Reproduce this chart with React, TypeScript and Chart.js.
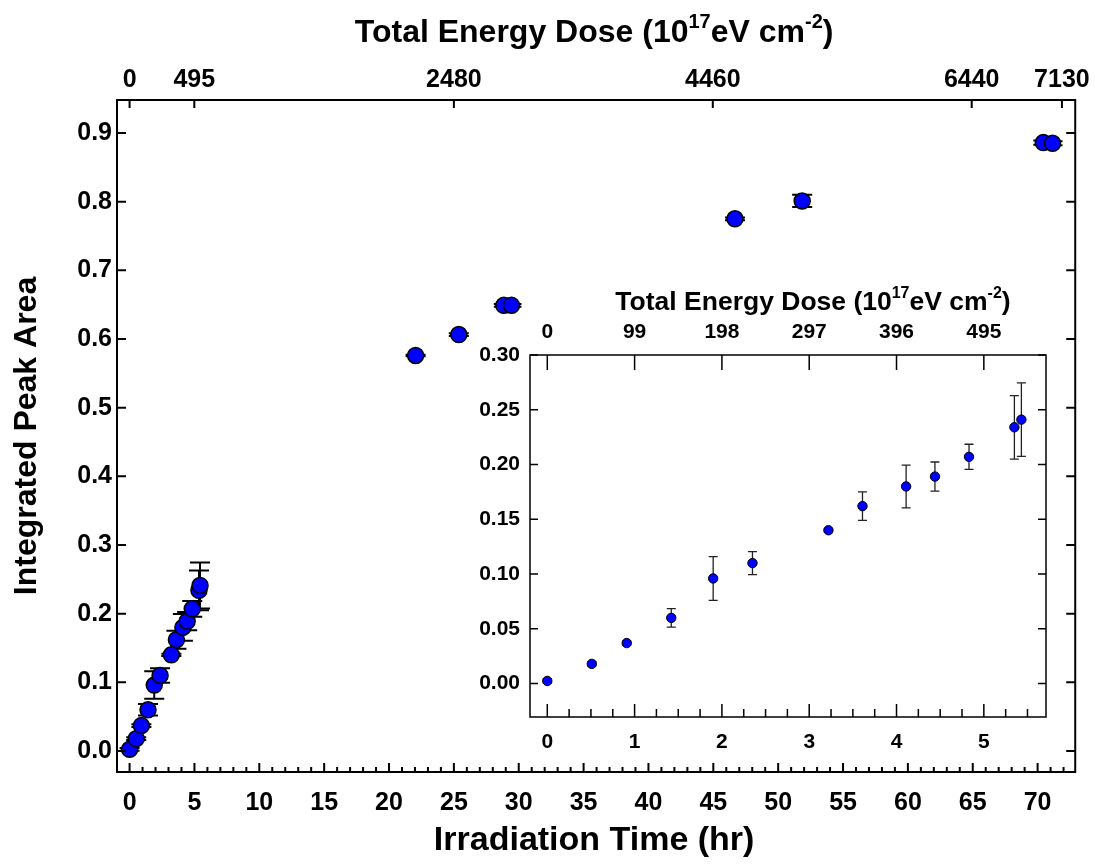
import React, { useEffect, useRef } from 'react';
import { Chart, registerables } from 'chart.js';

Chart.register(...registerables);

const FONT = "'Liberation Sans', Arial, Helvetica, sans-serif";

// ---- data (irradiation time in hr, integrated peak area, error) ----
const earlyTime = [0, 0.51, 0.91, 1.42, 1.9, 2.35, 3.22, 3.61, 4.11, 4.44, 4.83, 5.35, 5.43];
const earlyArea = [0.0024, 0.018, 0.037, 0.06, 0.096, 0.11, 0.14, 0.162, 0.18, 0.189, 0.207, 0.234, 0.241];
const earlyErr = [0.002, 0.002, 0.002, 0.0085, 0.02, 0.0105, 0.0015, 0.013, 0.0195, 0.0133, 0.0115, 0.029, 0.0335];

const lateTime = [22.05, 25.38, 28.85, 29.44, 46.67, 51.85, 70.44, 71.15];
const lateArea = [0.576, 0.6065, 0.649, 0.649, 0.775, 0.801, 0.886, 0.885];
const lateErr = [0.001, 0.002, 0.002, 0.002, 0.002, 0.009, 0.003, 0.003];

// ---- tick labels ----
const mainXTicks = [0, 5, 10, 15, 20, 25, 30, 35, 40, 45, 50, 55, 60, 65, 70];
const mainTopTicks = [0, 495, 2480, 4460, 6440, 7130];
const mainYTicks = [0, 0.1, 0.2, 0.3, 0.4, 0.5, 0.6, 0.7, 0.8, 0.9];
const insetXTicks = [0, 1, 2, 3, 4, 5];
const insetTopTicks = [0, 99, 198, 297, 396, 495];
const insetYTicks = [0, 0.05, 0.1, 0.15, 0.2, 0.25, 0.3];

const xTitle = 'Irradiation Time (hr)';
const yTitle = 'Integrated Peak Area';
const topTitleParts = [
  { t: 'Total Energy Dose (10', sup: false },
  { t: '17', sup: true },
  { t: 'eV cm', sup: false },
  { t: '-2', sup: true },
  { t: ')', sup: false },
];

function range(start: number, end: number, step: number) {
  const out: number[] = [];
  for (let v = start; v <= end + 1e-9; v += step) out.push(Math.round(v * 1000) / 1000);
  return out;
}

function drawRich(ctx: CanvasRenderingContext2D, parts: { t: string; sup: boolean }[], cx: number, cy: number, size: number) {
  const big = `bold ${size}px ${FONT}`;
  const small = `bold ${Math.round(size * 0.62)}px ${FONT}`;
  let total = 0;
  const widths = parts.map((p) => {
    ctx.font = p.sup ? small : big;
    const w = ctx.measureText(p.t).width;
    total += w;
    return w;
  });
  let x = cx - total / 2;
  const base = cy + size * 0.36;
  ctx.fillStyle = '#000';
  ctx.textAlign = 'left';
  ctx.textBaseline = 'alphabetic';
  parts.forEach((p, i) => {
    ctx.font = p.sup ? small : big;
    ctx.fillText(p.t, x, p.sup ? base - size * 0.42 : base);
    x += widths[i];
  });
}

type FrameCfg = {
  lw: number;
  xMajor: number[];
  xMinor: number[];
  majorLen: number;
  minorLen: number;
  topTicks: number[];
  topLen: number;
  yTicks: number[];
  sideLen: number;
  errLw: number;
  errColor: string;
  capW: number;
};

function framePlugin(cfg: FrameCfg, titles: (chart: any) => void) {
  return {
    id: 'frameAndErrors',
    beforeDatasetsDraw(chart: any) {
      const { ctx, scales } = chart;
      const x = scales.x;
      const y = scales.y;
      ctx.save();
      ctx.strokeStyle = cfg.errColor;
      ctx.lineWidth = cfg.errLw;
      chart.data.datasets.forEach((ds: any) => {
        const errs: number[] = ds.err || [];
        ds.data.forEach((d: any, j: number) => {
          const e = errs[j];
          if (!e) return;
          const px = x.getPixelForValue(d.x);
          const pt = y.getPixelForValue(d.y + e);
          const pb = y.getPixelForValue(d.y - e);
          ctx.beginPath();
          ctx.moveTo(px, pt);
          ctx.lineTo(px, pb);
          ctx.moveTo(px - cfg.capW / 2, pt);
          ctx.lineTo(px + cfg.capW / 2, pt);
          ctx.moveTo(px - cfg.capW / 2, pb);
          ctx.lineTo(px + cfg.capW / 2, pb);
          ctx.stroke();
        });
      });
      ctx.restore();
    },
    afterDraw(chart: any) {
      const { ctx, chartArea: a, scales } = chart;
      const x = scales.x;
      const xt = scales.xTop;
      const y = scales.y;
      ctx.save();
      ctx.strokeStyle = '#000';
      ctx.lineWidth = cfg.lw;
      ctx.beginPath();
      cfg.xMajor.forEach((v) => {
        const px = x.getPixelForValue(v);
        ctx.moveTo(px, a.bottom);
        ctx.lineTo(px, a.bottom - cfg.majorLen);
      });
      cfg.xMinor.forEach((v) => {
        const px = x.getPixelForValue(v);
        ctx.moveTo(px, a.bottom);
        ctx.lineTo(px, a.bottom - cfg.minorLen);
      });
      cfg.topTicks.forEach((v) => {
        const px = xt.getPixelForValue(v);
        ctx.moveTo(px, a.top);
        ctx.lineTo(px, a.top + cfg.topLen);
      });
      cfg.yTicks.forEach((v) => {
        const py = y.getPixelForValue(v);
        ctx.moveTo(a.left, py);
        ctx.lineTo(a.left + cfg.sideLen, py);
        ctx.moveTo(a.right, py);
        ctx.lineTo(a.right - cfg.sideLen, py);
      });
      ctx.stroke();
      ctx.lineWidth = cfg.lw;
      ctx.strokeRect(a.left, a.top, a.right - a.left, a.bottom - a.top);
      ctx.restore();
      ctx.save();
      titles(chart);
      ctx.restore();
    },
  };
}

function tickFont(size: number) {
  return { family: FONT, size, weight: 'bold' as const };
}

function fixedTicks(values: number[]) {
  return (scale: any) => {
    scale.ticks = values.map((v) => ({ value: v }));
  };
}

export default function App() {
  const mainRef = useRef<HTMLCanvasElement>(null);
  const insetRef = useRef<HTMLCanvasElement>(null);

  useEffect(() => {
    const mainPoints = [
      ...earlyTime.map((t, i) => ({ x: t, y: earlyArea[i] })),
      ...lateTime.map((t, i) => ({ x: t, y: lateArea[i] })),
    ];
    const mainErr = [...earlyErr, ...lateErr];
    const insetPoints = earlyTime.map((t, i) => ({ x: t, y: earlyArea[i] }));

    const yMinMain = -0.0306;
    const yMaxMain = 0.948;
    const xMinMain = -0.97;
    const xMaxMain = 72.9;
    const doseRatio = 99.2;

    const mainChart = new Chart(mainRef.current!, {
      type: 'scatter',
      data: {
        datasets: [
          {
            data: mainPoints,
            err: mainErr,
            pointRadius: 8,
            pointBackgroundColor: '#0000ff',
            pointBorderColor: '#000',
            pointBorderWidth: 1.5,
            showLine: false,
          } as any,
        ],
      },
      options: {
        animation: false,
        responsive: false,
        events: [],
        layout: { padding: 0 },
        plugins: { legend: { display: false }, tooltip: { enabled: false } },
        scales: {
          x: {
            type: 'linear',
            position: 'bottom',
            min: xMinMain,
            max: xMaxMain,
            afterBuildTicks: fixedTicks(mainXTicks),
            afterFit: (s: any) => { s.height = 92; },
            grid: { display: false, drawTicks: false },
            border: { display: false },
            ticks: { font: tickFont(25), color: '#000', padding: 16, maxRotation: 0, autoSkip: false, callback: (v: any) => String(v) },
          },
          xTop: {
            type: 'linear',
            position: 'top',
            min: xMinMain * doseRatio,
            max: xMaxMain * doseRatio,
            afterBuildTicks: fixedTicks(mainTopTicks),
            afterFit: (s: any) => { s.height = 100; },
            grid: { display: false, drawTicks: false },
            border: { display: false },
            ticks: { font: tickFont(25), color: '#000', padding: 5, maxRotation: 0, autoSkip: false, callback: (v: any) => String(v) },
          },
          y: {
            type: 'linear',
            position: 'left',
            min: yMinMain,
            max: yMaxMain,
            afterBuildTicks: fixedTicks(mainYTicks),
            afterFit: (s: any) => { s.width = 117; },
            grid: { display: false, drawTicks: false },
            border: { display: false },
            ticks: { font: tickFont(25), color: '#000', padding: 5, autoSkip: false, callback: (v: any) => Number(v).toFixed(1) },
          },
          yRight: {
            type: 'linear',
            position: 'right',
            min: yMinMain,
            max: yMaxMain,
            afterFit: (s: any) => { s.width = 19; },
            grid: { display: false, drawTicks: false },
            border: { display: false },
            ticks: { display: false },
          },
        },
      } as any,
      plugins: [
        framePlugin(
          {
            lw: 2,
            xMajor: mainXTicks,
            xMinor: range(0, 72, 1),
            majorLen: 9,
            minorLen: 5,
            topTicks: mainTopTicks,
            topLen: 8,
            yTicks: mainYTicks,
            sideLen: 9,
            errLw: 2,
            errColor: '#000',
            capW: 20,
          },
          (chart: any) => {
            const ctx = chart.ctx as CanvasRenderingContext2D;
            const a = chart.chartArea;
            const cx = (a.left + a.right) / 2;
            ctx.fillStyle = '#000';
            ctx.font = `bold 34px ${FONT}`;
            ctx.textAlign = 'center';
            ctx.textBaseline = 'middle';
            ctx.fillText(xTitle, cx - 2, 841);
            ctx.font = `bold 32px ${FONT}`;
            ctx.save();
            ctx.translate(27, (a.top + a.bottom) / 2);
            ctx.rotate(-Math.PI / 2);
            ctx.fillText(yTitle, 0, 0);
            ctx.restore();
            drawRich(ctx, topTitleParts, cx - 2, 30, 32);
          }
        ),
      ],
    });

    const insetChart = new Chart(insetRef.current!, {
      type: 'scatter',
      data: {
        datasets: [
          {
            data: insetPoints,
            err: earlyErr,
            pointRadius: 4.7,
            pointBackgroundColor: '#0000ff',
            pointBorderColor: '#000',
            pointBorderWidth: 1,
            showLine: false,
          } as any,
        ],
      },
      options: {
        animation: false,
        responsive: false,
        events: [],
        layout: { padding: 0 },
        plugins: { legend: { display: false }, tooltip: { enabled: false } },
        scales: {
          x: {
            type: 'linear',
            position: 'bottom',
            min: -0.198,
            max: 5.712,
            afterBuildTicks: fixedTicks(insetXTicks),
            afterFit: (s: any) => { s.height = 53; },
            grid: { display: false, drawTicks: false },
            border: { display: false },
            ticks: { font: tickFont(21), color: '#000', padding: 13, maxRotation: 0, autoSkip: false, callback: (v: any) => String(v) },
          },
          xTop: {
            type: 'linear',
            position: 'top',
            min: -0.198 * 99,
            max: 5.712 * 99,
            afterBuildTicks: fixedTicks(insetTopTicks),
            afterFit: (s: any) => { s.height = 85; },
            grid: { display: false, drawTicks: false },
            border: { display: false },
            ticks: { font: tickFont(21), color: '#000', padding: 10, maxRotation: 0, autoSkip: false, callback: (v: any) => String(v) },
          },
          y: {
            type: 'linear',
            position: 'left',
            min: -0.0305,
            max: 0.3,
            afterBuildTicks: fixedTicks(insetYTicks),
            afterFit: (s: any) => { s.width = 60; },
            grid: { display: false, drawTicks: false },
            border: { display: false },
            ticks: { font: tickFont(21), color: '#000', padding: 10, autoSkip: false, callback: (v: any) => Number(v).toFixed(2) },
          },
          yRight: {
            type: 'linear',
            position: 'right',
            min: -0.0305,
            max: 0.3,
            afterFit: (s: any) => { s.width = 24; },
            grid: { display: false, drawTicks: false },
            border: { display: false },
            ticks: { display: false },
          },
        },
      } as any,
      plugins: [
        framePlugin(
          {
            lw: 1.5,
            xMajor: insetXTicks,
            xMinor: range(0, 5.5, 0.25),
            majorLen: 13,
            minorLen: 8,
            topTicks: insetTopTicks,
            topLen: 15,
            yTicks: insetYTicks,
            sideLen: 8,
            errLw: 1.3,
            errColor: '#222',
            capW: 9,
          },
          (chart: any) => {
            const ctx = chart.ctx as CanvasRenderingContext2D;
            drawRich(ctx, topTitleParts, 343, 30, 26.5);
          }
        ),
      ],
    });

    return () => {
      mainChart.destroy();
      insetChart.destroy();
    };
  }, []);

  return (
    <div style={{ position: 'absolute', left: 0, top: 0, width: 1095, height: 864, background: '#fff' }}>
      <canvas ref={mainRef} width={1095} height={864} style={{ position: 'absolute', left: 0, top: 0, width: 1095, height: 864 }} />
      <canvas ref={insetRef} width={600} height={500} style={{ position: 'absolute', left: 470, top: 270, width: 600, height: 500 }} />
    </div>
  );
}
